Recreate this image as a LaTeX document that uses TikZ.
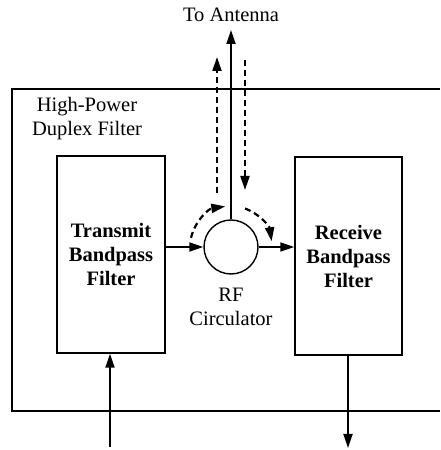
\documentclass[tikz,border=0pt]{standalone}
\usepackage{fontspec}
\setmainfont{Liberation Serif}
\usetikzlibrary{arrows.meta}
\begin{document}
\begin{tikzpicture}[x=1pt,y=1pt,
  every node/.style={font=\fontsize{20.5}{24}\selectfont, inner sep=0pt},
  box/.style={draw, line width=1.4pt, align=center, font=\fontsize{20.5}{24}\selectfont\bfseries},
  sig/.style={line width=1.8pt, -{Triangle[length=14pt,width=9pt]}},
  dsig/.style={line width=2.2pt, dash pattern=on 6pt off 4pt, -{Triangle[length=14pt,width=9pt]}},
  lbl/.style={align=center}]
\useasboundingbox (0,0) rectangle (440,450);
% outer duplex filter box (open to the right)
\draw[line width=1.4pt] (440,361) -- (12,361) -- (12,39) -- (440,39);
\node[lbl] (title) at (87,331.5) {High-Power\\Duplex Filter};
\node (ant) at (231,435) {To Antenna};
% blocks
\node[box, minimum width=108pt, minimum height=197pt] (tx) at (111,195.5) {Transmit\\Bandpass\\Filter};
\node[box, minimum width=107pt, minimum height=198pt] (rx) at (348.5,194) {Receive\\Bandpass\\Filter};
\node[draw, circle, line width=1.4pt, minimum size=54pt] (circ) at (231,203) {};
\node[lbl] (circlbl) at (231,143.5) {RF\\Circulator};
% coordinates for free ends
\coordinate (anttip) at (231,420);
\coordinate (dlb) at (217,257);
\coordinate (dlt) at (217,393);
\coordinate (drt) at (245,390);
\coordinate (drb) at (245,260);
\coordinate (txin) at (110,3);
\coordinate (rxout) at (348,2);
% connectors
\draw[sig] (circ.north) -- (anttip);
\draw[sig] (tx.east |- circ.west) -- (circ.west);
\draw[sig] (circ.east) -- (rx.west |- circ.east);
\draw[sig] (txin) -- (txin |- tx.south);
\draw[sig] (rxout |- rx.south) -- (rxout);
\draw[dsig] (dlb) -- (dlt);
\draw[dsig] (drt) -- (drb);
\draw[dsig] ([shift={(167:41pt)}]circ.center) arc[start angle=167, end angle=98, radius=41pt];
\draw[dsig] ([shift={(70:41pt)}]circ.center) arc[start angle=70, end angle=8, radius=41pt];
\end{tikzpicture}
\end{document}
